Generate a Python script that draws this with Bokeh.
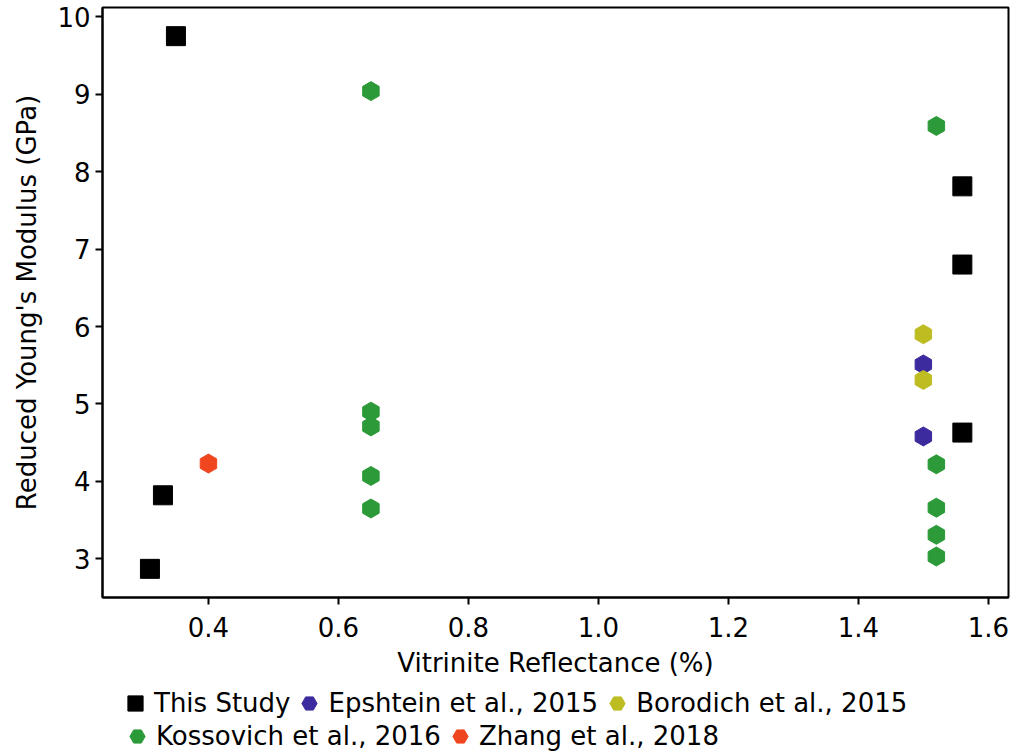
import math
from bokeh.plotting import figure
from bokeh.layouts import column
from bokeh.models import Legend, LegendItem, FixedTicker, Range1d, NumeralTickFormatter
from bokeh.embed import file_html
from bokeh.resources import INLINE

# ---- data ----
this_x = [0.31, 0.33, 0.35, 1.56, 1.56, 1.56]
this_y = [2.87, 3.82, 9.75, 7.81, 6.80, 4.63]

epsh_x = [1.50, 1.50]
epsh_y = [5.51, 4.58]

boro_x = [1.50, 1.50]
boro_y = [5.90, 5.31]

koss_x = [0.65, 0.65, 0.65, 0.65, 0.65, 1.52, 1.52, 1.52, 1.52, 1.52]
koss_y = [9.04, 4.90, 4.71, 4.07, 3.65, 8.59, 4.22, 3.66, 3.31, 3.03]

zhang_x = [0.40]
zhang_y = [4.23]

x_ticks = [0.4, 0.6, 0.8, 1.0, 1.2, 1.4, 1.6]
y_ticks = [3, 4, 5, 6, 7, 8, 9, 10]

FONT = "DejaVu Sans"
FS = "26px"
LFS = "26px"
HEX_ANGLE = math.pi / 6

series = [
    ("This Study", this_x, this_y, "square", "black"),
    ("Epshtein et al., 2015", epsh_x, epsh_y, "hex", "#3c2b9e"),
    ("Borodich et al., 2015", boro_x, boro_y, "hex", "#bdbd22"),
    ("Kossovich et al., 2016", koss_x, koss_y, "hex", "#2c9a38"),
    ("Zhang et al., 2018", zhang_x, zhang_y, "hex", "#f0461f"),
]


def add_series(fig):
    rs = []
    for label, xs, ys, mk, col in series:
        kw = dict(marker=mk, size=19, color=col)
        if mk == "hex":
            kw["angle"] = HEX_ANGLE
        rs.append(fig.scatter(xs, ys, **kw))
    return rs


# ---- main plot ----
p = figure(width=1013, height=680, output_backend="svg", toolbar_location=None,
           x_range=Range1d(0.237, 1.631), y_range=Range1d(2.5, 10.12),
           min_border_left=102, min_border_right=5, min_border_top=7, min_border_bottom=0)
p.background_fill_color = "white"
p.border_fill_color = "white"
p.xgrid.visible = False
p.ygrid.visible = False
p.outline_line_color = "black"
p.outline_line_width = 2
p.outline_line_alpha = 1.0

for ax in (p.xaxis[0], p.yaxis[0]):
    ax.axis_line_width = 2
    ax.axis_line_color = "black"
    ax.major_tick_line_width = 2
    ax.major_tick_out = 7
    ax.major_tick_in = 0
    ax.minor_tick_line_color = None
    ax.major_label_text_font = FONT
    ax.major_label_text_font_size = FS
    ax.major_label_text_color = "black"
    ax.axis_label_text_font = FONT
    ax.axis_label_text_font_size = FS
    ax.axis_label_text_font_style = "normal"
    ax.axis_label_text_color = "black"

p.xaxis.ticker = FixedTicker(ticks=x_ticks)
p.xaxis.formatter = NumeralTickFormatter(format="0.0")
p.yaxis.ticker = FixedTicker(ticks=y_ticks)
p.xaxis.axis_label = "Vitrinite Reflectance (%)"
p.yaxis.axis_label = "Reduced Young's Modulus (GPa)"
p.xaxis.major_label_standoff = 12
p.xaxis.axis_label_standoff = 8
p.yaxis.major_label_standoff = 5
p.yaxis.axis_label_standoff = 12

add_series(p)

# ---- legend strip below (same series; points fall outside its ranges) ----
q = figure(width=1013, height=75, output_backend="svg", toolbar_location=None,
           x_range=Range1d(100, 101), y_range=Range1d(100, 101),
           min_border_left=0, min_border_right=0, min_border_top=0, min_border_bottom=0)
q.axis.visible = False
q.xgrid.visible = False
q.ygrid.visible = False
q.outline_line_color = None
q.background_fill_color = "white"
q.border_fill_color = "white"
lr = add_series(q)

common = dict(orientation="horizontal", glyph_width=38, glyph_height=38,
              label_standoff=0, spacing=0, padding=0, margin=0,
              border_line_color=None, background_fill_alpha=0,
              label_text_font=FONT, label_text_font_size=LFS, label_text_color="black")

leg1 = Legend(items=[LegendItem(label=series[i][0], renderers=[lr[i]]) for i in (0, 1, 2)],
              location=(14, 33), **common)
leg2 = Legend(items=[LegendItem(label=series[i][0], renderers=[lr[i]]) for i in (3, 4)],
              location=(16, 0), **common)
q.add_layout(leg1, "center")
q.add_layout(leg2, "center")

layout = column(p, q, spacing=0)
open("out.html", "w").write(file_html(layout, INLINE))
